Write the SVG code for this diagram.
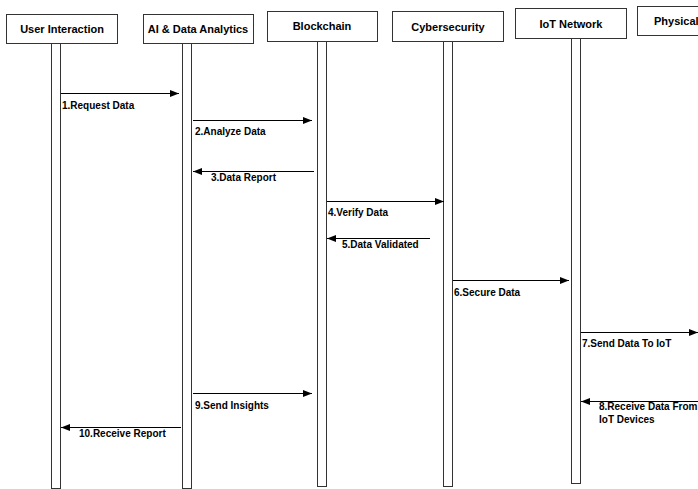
<svg xmlns="http://www.w3.org/2000/svg" width="698" height="489" viewBox="0 0 698 489">
<defs>
<marker id="ah" markerWidth="9" markerHeight="7" refX="9" refY="3.5" orient="auto" markerUnits="userSpaceOnUse">
<path d="M0,0 L9,3.5 L0,7 Z" fill="#000"/>
</marker>
<style>
.box{fill:#fff;stroke:#333;stroke-width:1}
.bar{fill:#fff;stroke:#333;stroke-width:1}
.hd{font-family:"Liberation Sans",Arial,sans-serif;font-weight:bold;font-size:11px;fill:#000}
.lb{font-family:"Liberation Sans",Arial,sans-serif;font-weight:bold;font-size:10px;fill:#000}
.msg{stroke:#000;stroke-width:1;fill:none;marker-end:url(#ah)}
</style>
</defs>
<rect width="698" height="489" fill="#fff"/>
<g id="user">
<rect class="box" x="6.5" y="14.5" width="111" height="29"/>
<text class="hd" x="62" y="33" text-anchor="middle">User Interaction</text>
<rect class="bar" x="51.5" y="43.5" width="9" height="445"/>
</g>
<g id="ai">
<rect class="box" x="143.5" y="14.5" width="110" height="29"/>
<text class="hd" x="198" y="33" text-anchor="middle">AI &amp; Data Analytics</text>
<rect class="bar" x="182.5" y="43.5" width="9" height="445"/>
</g>
<g id="blockchain">
<rect class="box" x="267.5" y="11.5" width="110" height="30"/>
<text class="hd" x="322" y="30" text-anchor="middle">Blockchain</text>
<rect class="bar" x="317.5" y="41.5" width="9" height="445"/>
</g>
<g id="cyber">
<rect class="box" x="392.5" y="11.5" width="111" height="30"/>
<text class="hd" x="448" y="31" text-anchor="middle">Cybersecurity</text>
<rect class="bar" x="443.5" y="41.5" width="9" height="445"/>
</g>
<g id="iot">
<rect class="box" x="515.5" y="8.5" width="111" height="30"/>
<text class="hd" x="571" y="28" text-anchor="middle">IoT Network</text>
<rect class="bar" x="571.5" y="38.5" width="9" height="445"/>
</g>
<g id="physical">
<rect class="box" x="637.5" y="6.5" width="80" height="29"/>
<text class="hd" x="654" y="25">Physical</text>
</g>
<g id="connectors">
<line class="msg" x1="61" y1="93.5" x2="179" y2="93.5"/>
<line class="msg" x1="193" y1="120.5" x2="312" y2="120.5"/>
<line class="msg" x1="314" y1="171.5" x2="193" y2="171.5"/>
<line class="msg" x1="327" y1="201.5" x2="444" y2="201.5"/>
<line class="msg" x1="430" y1="238.5" x2="327" y2="238.5"/>
<line class="msg" x1="453" y1="280.5" x2="569" y2="280.5"/>
<line class="msg" x1="581" y1="332.5" x2="698" y2="332.5"/>
<line class="msg" x1="700" y1="401.5" x2="581" y2="401.5"/>
<line class="msg" x1="193" y1="393.5" x2="312" y2="393.5"/>
<line class="msg" x1="181" y1="427.5" x2="61" y2="427.5"/>
</g>
<g id="labels">
<text class="lb" x="62" y="109">1.Request Data</text>
<text class="lb" x="195" y="135">2.Analyze Data</text>
<text class="lb" x="211" y="181">3.Data Report</text>
<text class="lb" x="328" y="216">4.Verify Data</text>
<text class="lb" x="342" y="248">5.Data Validated</text>
<text class="lb" x="454" y="296">6.Secure Data</text>
<text class="lb" x="582" y="347">7.Send Data To IoT</text>
<text class="lb" x="599" y="410">8.Receive Data From</text>
<text class="lb" x="599" y="423">IoT Devices</text>
<text class="lb" x="195" y="409">9.Send Insights</text>
<text class="lb" x="79" y="437">10.Receive Report</text>
</g>
</svg>
